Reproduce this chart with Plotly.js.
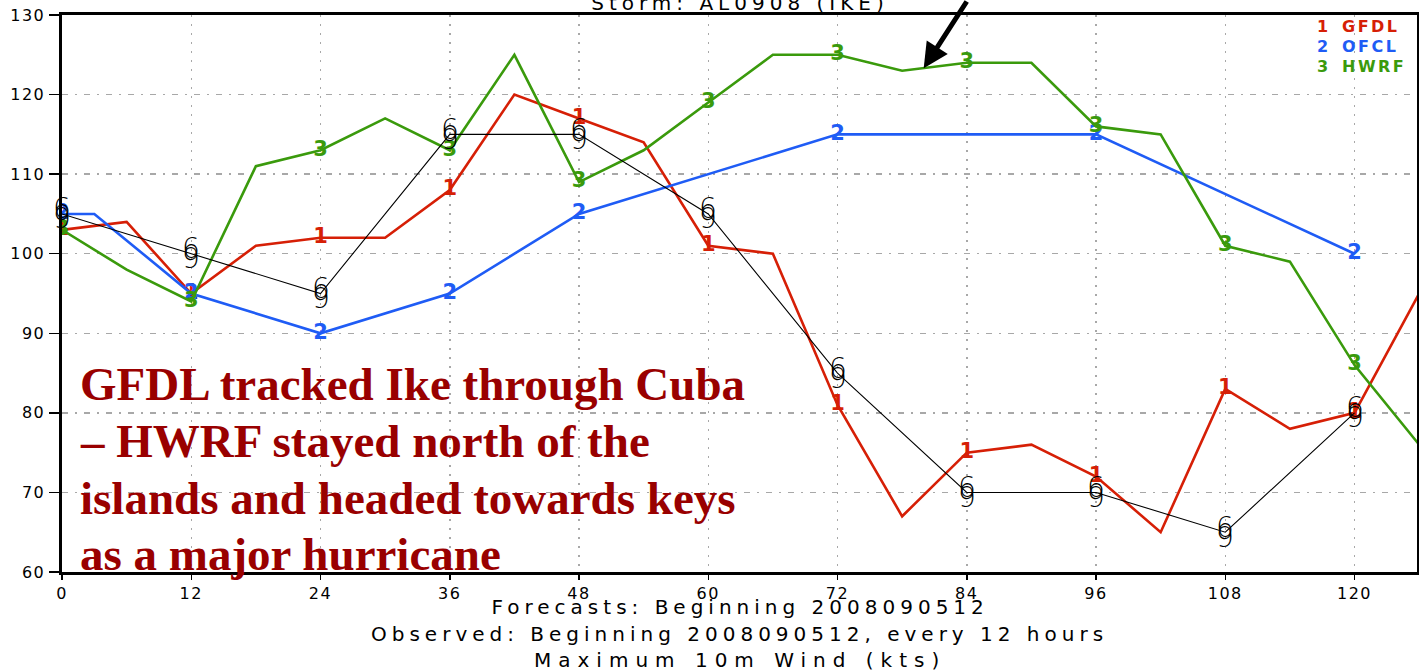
<!DOCTYPE html>
<html>
<head>
<meta charset="utf-8">
<script src="https://cdn.plot.ly/plotly-3.0.1.min.js"></script>
<style>
  html, body { margin: 0; padding: 0; background: #ffffff; }
  #chart { width: 1419px; height: 671px; }
  .xtick text, .ytick text { letter-spacing: 1.5px; }
  .gtitle { letter-spacing: 5px; }
</style>
</head>
<body>
<div id="chart"></div>
<script>
// Forecast hours (6-hourly model output)
const hours6 = [0, 6, 12, 18, 24, 30, 36, 42, 48, 54, 60, 66, 72, 78, 84, 90, 96, 102, 108, 114, 120, 126];
// GFDL maximum 10 m wind (kt)
const gfdl = [103, 104, 95, 101, 102, 102, 108, 120, 117, 114, 101, 100, 81, 67, 75, 76, 72, 65, 83, 78, 80, 95];
// HWRF maximum 10 m wind (kt)
const hwrf = [103, 98, 94, 111, 113, 117, 113, 125, 109, 113, 119, 125, 125, 123, 124, 124, 116, 115, 101, 99, 86, 76];
// Official forecast
const ofclHours = [0, 3, 12, 24, 36, 48, 72, 96, 120];
const ofcl = [105, 105, 95, 90, 95, 105, 115, 115, 100];
// Observed intensity, every 12 hours
const obsHours = [0, 12, 24, 36, 48, 60, 72, 84, 96, 108, 120];
const obs = [105, 100, 95, 115, 115, 105, 85, 70, 70, 65, 80];

const xTicks = [0, 12, 24, 36, 48, 60, 72, 84, 96, 108, 120];
const yTicks = [60, 70, 80, 90, 100, 110, 120, 130];

const models = [
  { name: 'GFDL', id: '1', x: hours6, y: gfdl, color: '#d61f06' },
  { name: 'OFCL', id: '2', x: ofclHours, y: ofcl, color: '#1f5cf5' },
  { name: 'HWRF', id: '3', x: hours6, y: hwrf, color: '#3a9a0c' }
];

const titleText = 'Storm: AL0908 (IKE)';
const noteLines = [
  'Forecasts: Beginning 2008090512',
  'Observed: Beginning 2008090512, every 12 hours',
  'Maximum 10m Wind (kts)'
];
const noteSpacing = [5, 5, 7];
const commentLines = [
  'GFDL tracked Ike through Cuba',
  '\u2013 HWRF stayed north of the',
  'islands and headed towards keys',
  'as a major hurricane'
];

const labelFont = 'DejaVu Sans, Verdana, sans-serif';

// model lines with their id digit every 12 hours
const traces = models.map(m => ({
  type: 'scatter',
  mode: 'lines+text',
  x: m.x,
  y: m.y,
  text: m.x.map(h => (h % 12 === 0 && h <= 120) ? m.id : ''),
  textposition: 'middle center',
  textfont: { family: labelFont, size: 21, color: m.color, weight: 'bold' },
  line: { color: m.color, width: 2.6 },
  showlegend: false,
  hoverinfo: 'skip'
}));

// observed track line
traces.push({
  type: 'scatter',
  mode: 'lines',
  x: obsHours,
  y: obs,
  line: { color: '#000000', width: 1.1 },
  showlegend: false,
  hoverinfo: 'skip'
});

const annotations = [];
const spaced = {};

// footer notes
const noteY = [-0.0628, -0.1113, -0.158];
noteLines.forEach((t, i) => {
  spaced[annotations.length] = noteSpacing[i];
  annotations.push({
    xref: 'paper', yref: 'paper', x: 0.5, y: noteY[i],
    xanchor: 'center', yanchor: 'middle',
    text: t, showarrow: false,
    font: { family: labelFont, size: 20, color: '#000000' }
  });
});

// legend: id digit and model name
const legendY = [0.980, 0.944, 0.907];
models.forEach((m, i) => {
  annotations.push({
    xref: 'paper', yref: 'paper', x: 0.930, y: legendY[i],
    xanchor: 'center', yanchor: 'middle', text: m.id, showarrow: false,
    font: { family: labelFont, size: 16, color: m.color, weight: 'bold' }
  });
  spaced[annotations.length] = 2.5;
  annotations.push({
    xref: 'paper', yref: 'paper', x: 0.9469, y: legendY[i],
    xanchor: 'left', yanchor: 'middle', text: m.name, showarrow: false,
    font: { family: labelFont, size: 16, color: m.color, weight: 'bold' }
  });
});

// hurricane symbols on the observed track
obsHours.forEach((h, i) => {
  [['6', 5], ['9', -5]].forEach(([g, dy]) => {
    annotations.push({
      x: h, y: obs[i], xref: 'x', yref: 'y',
      text: g, showarrow: false, yshift: dy,
      xanchor: 'center', yanchor: 'middle',
      font: { family: 'DejaVu Sans, sans-serif', size: 28, color: '#000000', weight: 200 }
    });
  });
});

// pointer to HWRF peak plateau
annotations.push({
  x: 80, y: 123.3, xref: 'x', yref: 'y',
  text: '', showarrow: true, arrowhead: 2, arrowsize: 1, arrowwidth: 5,
  arrowcolor: '#000000', ax: 44, ay: -78, standoff: 0
});

// commentary
const commentY = [0.3375, 0.2352, 0.1329, 0.0323];
commentLines.forEach((t, i) => {
  annotations.push({
    xref: 'paper', yref: 'paper', x: 0.0118, y: commentY[i],
    xanchor: 'left', yanchor: 'middle', text: t, showarrow: false,
    font: { family: 'Liberation Serif, Times New Roman, serif', size: 47, color: '#990000', weight: 'bold' }
  });
});

const layout = {
  width: 1419,
  height: 671,
  margin: { l: 62, r: 2, t: 15, b: 99 },
  paper_bgcolor: '#ffffff',
  plot_bgcolor: '#ffffff',
  title: {
    text: titleText,
    x: 0.5215, xanchor: 'center',
    y: 0.996, yanchor: 'middle', yref: 'container',
    font: { family: labelFont, size: 20, color: '#000000' }
  },
  xaxis: {
    range: [0, 125.8],
    tickvals: xTicks,
    ticktext: xTicks.map(String),
    ticks: 'outside', ticklen: 5, tickwidth: 1.5, tickcolor: '#000000',
    showline: true, linecolor: '#000000', linewidth: 3, mirror: true,
    showgrid: true, gridcolor: '#a8a8a8', gridwidth: 1.5, griddash: '2px,7px',
    zeroline: false,
    tickfont: { family: labelFont, size: 16, color: '#000000' },
    fixedrange: true
  },
  yaxis: {
    range: [60, 130],
    tickvals: yTicks,
    ticktext: yTicks.map(String),
    ticks: 'outside', ticklen: 10, tickwidth: 1.5, tickcolor: '#000000',
    showline: true, linecolor: '#000000', linewidth: 3.5, mirror: true,
    showgrid: true, gridcolor: '#a8a8a8', gridwidth: 1.5, griddash: '6px,7px,2px,7px',
    zeroline: false,
    tickfont: { family: labelFont, size: 16, color: '#000000' },
    fixedrange: true
  },
  annotations: annotations,
  showlegend: false
};

Plotly.newPlot('chart', traces, layout, { staticPlot: true, displayModeBar: false }).then(gd => {
  gd.querySelectorAll('g.annotation').forEach(g => {
    const idx = Number(g.getAttribute('data-index'));
    if (spaced[idx] !== undefined) {
      const t = g.querySelector('text');
      if (t) t.style.letterSpacing = spaced[idx] + 'px';
    }
  });
});
</script>
</body>
</html>
